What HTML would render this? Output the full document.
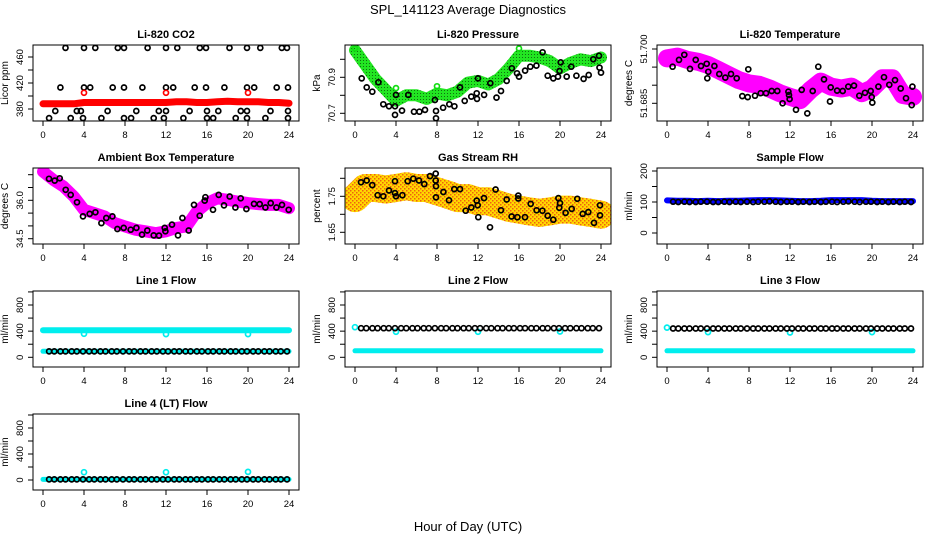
<!DOCTYPE html>
<html><head><meta charset="utf-8"><style>
html,body{margin:0;padding:0;background:#fff;}
svg{display:block;font-family:"Liberation Sans",Arial,sans-serif;}
</style></head><body>
<svg id="chart" width="936" height="540" viewBox="0 0 936 540" xmlns="http://www.w3.org/2000/svg">
<defs>
<pattern id="rhPat" width="4" height="4" patternUnits="userSpaceOnUse"><rect width="4" height="4" fill="#ffd800"/><rect width="1.5" height="1.5" fill="#f06010"/><rect x="2" y="2" width="1.5" height="1.5" fill="#f06010"/></pattern>
<pattern id="grPat" width="3" height="3" patternUnits="userSpaceOnUse"><rect width="3" height="3" fill="#22e622"/><rect width="1" height="1" fill="#107010"/></pattern>
</defs>
<text x="468" y="14" text-anchor="middle" font-size="13">SPL_141123  Average Diagnostics</text>
<text x="468" y="531" text-anchor="middle" font-size="13">Hour of Day (UTC)</text>
</svg>
<script>
// ---------- data ----------
const hours = [0,1,2,3,4,5,6,7,8,9,10,11,12,13,14,15,16,17,18,19,20,21,22,23,24];
const flowT = [0.6,1.1,1.7,2.2,2.8,3.3,3.9,4.5,5.0,5.6,6.1,6.7,7.2,7.8,8.4,8.9,9.5,10.0,10.6,11.1,11.7,12.2,12.8,13.3,13.9,14.4,15.0,15.5,16.1,16.6,17.2,17.7,18.3,18.8,19.4,19.9,20.5,21.0,21.6,22.1,22.7,23.2,23.8];
const xTicks = [0,4,8,12,16,20,24];

const co2Red = [388,388,388,388,390,390,390,390,390,390,390,390,390,391,391,390,390,391,392,391,391,391,390,390,389];
const co2RedOutX = [4,12,20];
const co2RedOutY = [405,405,405];
const co2Black = [[2.2,474],[4.0,474],[5.1,474],[7.3,474],[7.9,474],[10.2,474],[12.0,474],[13.1,474],[15.3,474],[15.9,474],[18.2,474],[19.9,474],[21.2,474],[23.3,474],[23.8,474],
[1.7,413],[4.0,413],[4.6,413],[6.8,413],[7.9,413],[9.7,413],[12.0,413],[12.7,413],[14.8,413],[15.9,413],[17.7,413],[19.9,413],[20.6,413],[22.8,413],[23.9,413],
[1.2,377],[3.3,377],[3.7,377],[6.3,377],[9.1,377],[11.3,377],[12.0,377],[14.3,377],[16.0,377],[17.1,377],[19.3,377],[19.9,377],[22.2,377],[23.9,377],
[0.6,366],[2.7,366],[3.9,366],[5.7,366],[7.9,366],[8.6,366],[10.8,366],[11.8,366],[13.7,366],[16.0,366],[16.6,366],[18.8,366],[19.9,366],[21.7,366],[23.9,366]];

const pressGreen = [71.05,70.97,70.89,70.83,70.77,70.80,70.80,70.78,70.81,70.80,70.82,70.87,70.88,70.86,70.89,70.95,71.02,71.02,71.01,70.99,70.95,70.98,71.00,70.99,71.01];
const pressOutX = [0,4,8,16];
const pressOutY = [71.06,70.84,70.85,71.06];
const pressBlack = [[0.65,70.894],[1.14,70.844],[1.69,70.820],[2.28,70.872],[2.76,70.750],[3.32,70.739],[3.9,70.739],[4.0,70.802],[3.9,70.691],[4.59,70.715],[5.2,70.802],[5.76,70.709],[6.28,70.709],[6.83,70.719],[7.8,70.774],[7.9,70.713],[7.9,70.672],[8.6,70.731],[9.2,70.750],[9.7,70.739],[10.24,70.844],[10.7,70.769],[11.35,70.793],[11.87,70.811],[11.9,70.780],[12.0,70.894],[12.6,70.802],[13.2,70.867],[13.8,70.787],[14.24,70.824],[14.8,70.880],[15.3,70.950],[15.8,70.922],[16.0,70.904],[16.6,70.937],[17.1,70.959],[17.7,70.965],[18.3,71.039],[18.8,70.909],[19.35,70.894],[19.8,70.904],[19.95,70.935],[20.07,70.983],[20.65,70.904],[21.1,70.959],[21.6,70.909],[22.3,70.891],[22.8,70.913],[23.25,71.0],[23.8,71.02],[23.85,70.954],[24.0,70.926]];

const tempMag = [51.6974,51.6979,51.6970,51.6965,51.6956,51.6942,51.6928,51.6914,51.6905,51.6901,51.6891,51.6878,51.6868,51.6859,51.6887,51.6910,51.6896,51.6891,51.6896,51.6878,51.6891,51.6919,51.6919,51.6873,51.6868];
const tempBlack = [[0.55,51.6951],[1.17,51.6970],[1.69,51.6984],[2.24,51.6945],[2.8,51.6970],[3.32,51.6953],[3.87,51.6959],[3.93,51.6919],[4.03,51.6937],[4.62,51.6953],[5.1,51.6931],[5.69,51.6921],[6.24,51.6931],[6.8,51.6919],[7.35,51.6870],[7.87,51.6867],[7.93,51.6944],[8.59,51.6871],[9.14,51.6878],[9.66,51.6878],[10.21,51.6884],[10.76,51.6884],[11.28,51.6850],[11.84,51.6882],[11.9,51.6873],[11.96,51.6862],[12.59,51.6832],[13.14,51.6887],[13.69,51.6822],[14.21,51.6884],[14.76,51.6951],[15.32,51.6916],[15.9,51.6855],[15.97,51.6894],[16.6,51.6885],[17.14,51.6884],[17.69,51.6896],[18.24,51.6899],[18.76,51.6871],[19.32,51.6879],[19.87,51.6884],[19.97,51.6867],[20.03,51.6852],[20.62,51.6896],[21.17,51.6922],[21.69,51.6901],[22.24,51.6914],[22.8,51.6891],[23.32,51.6864],[23.87,51.6845],[23.94,51.6896]];

const ambMag = [37.12,36.80,36.54,36.15,35.63,35.50,35.37,35.11,34.98,34.85,34.79,34.72,34.79,34.92,34.98,35.56,35.89,36.08,36.02,35.95,35.89,35.85,35.82,35.82,35.69];
const ambBlack = [[0.59,36.84],[1.14,36.77],[1.63,36.86],[2.21,36.41],[2.7,36.21],[3.32,35.92],[3.9,35.37],[4.56,35.47],[5.11,35.53],[5.7,35.11],[6.18,35.31],[6.77,35.37],[7.26,34.88],[7.87,34.92],[8.56,34.85],[9.11,34.92],[9.66,34.66],[10.18,34.82],[10.8,34.63],[11.32,34.62],[11.87,34.92],[11.94,34.79],[12.59,35.05],[13.17,34.63],[13.6,35.31],[14.21,34.82],[14.73,35.82],[15.29,35.40],[15.84,36.12],[15.78,35.99],[16.59,35.63],[17.14,36.21],[17.66,35.80],[18.21,36.15],[18.77,35.72],[19.29,36.08],[19.84,35.66],[20.59,35.86],[21.14,35.85],[21.7,35.72],[22.21,35.89],[22.77,35.72],[23.32,35.82],[23.97,35.63]];

const rhBand = [1.745,1.773,1.773,1.769,1.773,1.778,1.773,1.773,1.764,1.755,1.745,1.745,1.736,1.736,1.727,1.718,1.713,1.708,1.704,1.708,1.713,1.713,1.708,1.704,1.699];
const rhBlack = [[0.59,1.789],[1.14,1.794],[1.69,1.781],[2.21,1.753],[2.76,1.750],[3.32,1.766],[3.9,1.792],[3.9,1.759],[4.0,1.750],[4.62,1.753],[5.14,1.792],[5.69,1.799],[6.24,1.794],[6.76,1.784],[7.32,1.806],[7.87,1.813],[7.87,1.794],[7.9,1.778],[7.9,1.747],[8.62,1.762],[9.17,1.739],[9.69,1.770],[10.24,1.770],[10.8,1.710],[11.35,1.719],[11.87,1.738],[11.97,1.725],[12.03,1.692],[12.59,1.745],[13.17,1.664],[13.72,1.769],[14.24,1.711],[14.8,1.741],[15.28,1.694],[15.84,1.692],[15.93,1.752],[15.93,1.744],[16.59,1.692],[17.14,1.729],[17.72,1.711],[18.28,1.710],[18.8,1.696],[19.35,1.685],[19.84,1.745],[19.93,1.718],[20.0,1.731],[20.55,1.704],[21.14,1.715],[21.69,1.743],[22.21,1.701],[22.76,1.706],[23.32,1.676],[23.9,1.725],[23.9,1.697]];

const sampleBlue = [105,104,104,103,104,103,104,104,105,106,106,105,104,103,103,104,106,106,106,106,104,103,103,103,103];
const sampleBlack = [101,100,101,100,100,101,101,100,100,101,100,101,100,101,100,101,101,102,101,100,101,101,100,101,100,101,100,101,101,100,101,102,101,100,101,101,100,101,100,101,100,101,100];

const line1High = [415,415,415,415,415,415,415,415,415,415,415,415,415,415,415,415,415,415,415,415,415,415,415,415,415];
const line1Low = [92,92,92,92,92,92,92,92,92,92,92,92,92,92,92,92,92,92,92,92,92,92,92,92,92];
const line1Black = [90,90,90,90,90,90,90,90,90,90,90,90,90,90,90,90,90,90,90,90,90,90,90,90,90,90,90,90,90,90,90,90,90,90,90,90,90,90,90,90,90,90,90];
const line1OutX = [4,12,20];
const line1OutY = [360,355,355];

const line2Low = [100,100,100,100,100,100,100,100,100,100,100,100,100,100,100,100,100,100,100,100,100,100,100,100,100];
const line2Black = [445,445,445,445,445,445,445,445,445,445,445,445,445,445,445,445,445,445,445,445,445,445,445,445,445,445,445,445,445,445,445,445,445,445,445,445,445,445,445,445,445,445,445];
const line2OutX = [0,4,12,20];
const line2OutY = [460,390,390,395];

const line3Low = [100,100,100,100,100,100,100,100,100,100,100,100,100,100,100,100,100,100,100,100,100,100,100,100,100];
const line3Black = [440,440,440,440,440,440,440,440,440,440,440,440,440,440,440,440,440,440,440,440,440,440,440,440,440,440,440,440,440,440,440,440,440,440,440,440,440,440,440,440,440,440,440];
const line3OutX = [0,4,12,20];
const line3OutY = [455,385,380,385];

const line4Band = [10,10,10,10,10,10,10,10,10,10,10,10,10,10,10,10,10,10,10,10,10,10,10,10,10];
const line4Black = [10,10,10,10,10,10,10,10,10,10,10,10,10,10,10,10,10,10,10,10,10,10,10,10,10,10,10,10,10,10,10,10,10,10,10,10,10,10,10,10,10,10,10];
const line4OutX = [4,12,20];
const line4OutY = [120,120,125];

const flowTicks = [0,200,400,600,800,1000];
const flowLabels = [0,400,800];

// ---------- drawing ----------
const NS='http://www.w3.org/2000/svg';
const svg=document.getElementById('chart');
function mk(tag,attrs,parent){const e=document.createElementNS(NS,tag);for(const k in attrs)e.setAttribute(k,attrs[k]);(parent||svg).appendChild(e);return e;}
const colLeft=[33,345,657], rowTop=[45,168,291,414], W=266, H=76;
let clipId=0;

function drawPanel(p){
  const L=colLeft[p.col], T=rowTop[p.row];
  const g=mk('g',{});
  
  
  const xs=h=>L+10+h*10.25;
  const ys=v=>T+p.p0+(v-p.v0)*(p.p1-p.p0)/(p.v1-p.v0);
  const cid='clip'+(clipId++);
  const cp=mk('clipPath',{id:cid},g);
  mk('rect',{x:L,y:T,width:W,height:H},cp);
  const sg=mk('g',{'clip-path':'url(#'+cid+')'},g);
  
  
  p.series.forEach(s=>{
    if(s.type==='band'){
      const pts=s.x.map((h,i)=>xs(h).toFixed(1)+','+ys(s.y[i]).toFixed(1)).join(' ');
      const pl=mk('polyline',{points:pts,fill:'none',stroke:s.color,'stroke-width':s.width,'stroke-linejoin':'round','stroke-linecap':'round'},sg);
      
      
    } else {
      const xsArr=s.pairs?s.pairs.map(q=>q[0]):s.x;
      const ysArr=s.pairs?s.pairs.map(q=>q[1]):s.y;
      xsArr.forEach((h,i)=>{
        const c=mk('circle',{cx:xs(h).toFixed(1),cy:ys(ysArr[i]).toFixed(1),r:s.r||2.5,fill:'none',stroke:s.color,'stroke-width':s.sw||1.7},sg);
        
        
      });
    }
  });
  const box=mk('rect',{x:L,y:T,width:W,height:H,fill:'none',stroke:'#000','stroke-width':1},g);
  
  
  xTicks.forEach(t=>{
    const x=xs(t);
    const tk=mk('line',{x1:x,x2:x,y1:T+H,y2:T+H+5,stroke:'#000'},g);
    
    
    const tl=mk('text',{x:x,y:T+H+17,'text-anchor':'middle','font-size':9.5},g);
    
    
    tl.textContent=t;
  });
  p.ticks.forEach(t=>{
    const y=ys(t);
    const tk=mk('line',{x1:L-5,x2:L,y1:y,y2:y,stroke:'#000'},g);
    
    
  });
  p.labels.forEach(t=>{
    const y=ys(t), x=L-10;
    const tl=mk('text',{x:x,y:y,'text-anchor':'middle','font-size':9.5,transform:'rotate(-90 '+x+' '+y+')'},g);
    
    
    tl.textContent=p.fmt?p.fmt(t):t;
  });
  const ti=mk('text',{x:L+W/2,y:T-7,'text-anchor':'middle','font-size':11,'font-weight':'bold'},g);
  
  
  ti.textContent=p.title;
  const yx=L-25, yy=T+H/2;
  const yl=mk('text',{x:yx,y:yy,'text-anchor':'middle','font-size':10,transform:'rotate(-90 '+yx+' '+yy+')'},g);
  
  
  yl.textContent=p.ylab;
}

drawPanel({name:'co2-panel',col:0,row:0,title:'Li-820 CO2',ylab:'Licor ppm',v0:380,p0:64,v1:460,p1:12,
  ticks:[380,400,420,440,460],labels:[380,420,460],
  series:[{type:'pts',name:'co2-black',pairs:co2Black,color:'#000'},
          {type:'band',name:'co2-red-band',x:hours,y:co2Red,color:'#ff0000',width:7},
          {type:'pts',name:'co2-red-outlier',x:co2RedOutX,y:co2RedOutY,color:'#ff0000'}]});
drawPanel({name:'pressure-panel',col:1,row:0,title:'Li-820 Pressure',ylab:'kPa',v0:70.7,p0:68.3,v1:70.9,p1:32.3,
  ticks:[70.7,70.8,70.9,71.0],labels:[70.7,70.9],fmt:v=>v.toFixed(1),
  series:[{type:'band',name:'pressure-green-band',x:hours,y:pressGreen,color:'url(#grPat)',width:12},
          {type:'pts',name:'pressure-green-outlier',x:pressOutX,y:pressOutY,color:'#11dd11'},
          {type:'pts',name:'pressure-black',pairs:pressBlack,color:'#000'}]});
drawPanel({name:'temperature-panel',col:2,row:0,title:'Li-820 Temperature',ylab:'degrees C',v0:51.685,p0:58.3,v1:51.700,p1:4,
  ticks:[51.685,51.690,51.695,51.700],labels:[51.685,51.700],fmt:v=>v.toFixed(3),
  series:[{type:'band',name:'temperature-magenta-band',x:hours,y:tempMag,color:'#ff00ff',width:18},
          {type:'pts',name:'temperature-magenta',x:hours,y:tempMag,color:'#ff00ff',r:3.5},
          {type:'pts',name:'temperature-black',pairs:tempBlack,color:'#000'}]});
drawPanel({name:'ambient-panel',col:0,row:1,title:'Ambient Box Temperature',ylab:'degrees C',v0:34.5,p0:70.7,v1:36.0,p1:32.3,
  ticks:[34.5,35.0,35.5,36.0,36.5,37.0],labels:[34.5,36.0],fmt:v=>v.toFixed(1),
  series:[{type:'band',name:'ambient-magenta-band',x:hours,y:ambMag,color:'#ff00ff',width:12},
          {type:'pts',name:'ambient-black',pairs:ambBlack,color:'#000'}]});
drawPanel({name:'rh-panel',col:1,row:1,title:'Gas Stream RH',ylab:'percent',v0:1.65,p0:64.3,v1:1.75,p1:28.3,
  ticks:[1.65,1.70,1.75,1.80],labels:[1.65,1.75],fmt:v=>v.toFixed(2),
  series:[{type:'band',name:'rh-orange-band',x:hours,y:rhBand,color:'url(#rhPat)',width:28},
          {type:'pts',name:'rh-black',pairs:rhBlack,color:'#000'}]});
drawPanel({name:'sample-flow-panel',col:2,row:1,title:'Sample Flow',ylab:'ml/min',v0:0,p0:65,v1:200,p1:3,
  ticks:[0,50,100,150,200],labels:[0,100,200],
  series:[{type:'band',name:'sample-blue-band',x:hours,y:sampleBlue,color:'#0000ff',width:6},
          {type:'pts',name:'sample-black',x:flowT,y:sampleBlack,color:'#000'}]});
drawPanel({name:'line1-flow-panel',col:0,row:2,title:'Line 1 Flow',ylab:'ml/min',v0:0,p0:66.3,v1:800,p1:14,
  ticks:flowTicks,labels:flowLabels,
  series:[{type:'band',name:'line1-cyan-high',x:hours,y:line1High,color:'#00eeee',width:6},
          {type:'band',name:'line1-cyan-low',x:hours,y:line1Low,color:'#00eeee',width:5},
          {type:'pts',name:'line1-cyan-outlier',x:line1OutX,y:line1OutY,color:'#00eeee'},
          {type:'pts',name:'line1-black',x:flowT,y:line1Black,color:'#000'}]});
drawPanel({name:'line2-flow-panel',col:1,row:2,title:'Line 2 Flow',ylab:'ml/min',v0:0,p0:66.3,v1:800,p1:14,
  ticks:flowTicks,labels:flowLabels,
  series:[{type:'band',name:'line2-cyan-low',x:hours,y:line2Low,color:'#00eeee',width:5},
          {type:'pts',name:'line2-cyan-outlier',x:line2OutX,y:line2OutY,color:'#00eeee'},
          {type:'pts',name:'line2-black',x:flowT,y:line2Black,color:'#000'}]});
drawPanel({name:'line3-flow-panel',col:2,row:2,title:'Line 3 Flow',ylab:'ml/min',v0:0,p0:66.3,v1:800,p1:14,
  ticks:flowTicks,labels:flowLabels,
  series:[{type:'band',name:'line3-cyan-low',x:hours,y:line3Low,color:'#00eeee',width:5},
          {type:'pts',name:'line3-cyan-outlier',x:line3OutX,y:line3OutY,color:'#00eeee'},
          {type:'pts',name:'line3-black',x:flowT,y:line3Black,color:'#000'}]});
drawPanel({name:'line4-flow-panel',col:0,row:3,title:'Line 4 (LT) Flow',ylab:'ml/min',v0:0,p0:66,v1:800,p1:14,
  ticks:flowTicks,labels:flowLabels,
  series:[{type:'band',name:'line4-cyan-band',x:hours,y:line4Band,color:'#00eeee',width:5},
          {type:'pts',name:'line4-cyan-outlier',x:line4OutX,y:line4OutY,color:'#00eeee'},
          {type:'pts',name:'line4-black',x:flowT,y:line4Black,color:'#000'}]});
</script>
</body></html>
